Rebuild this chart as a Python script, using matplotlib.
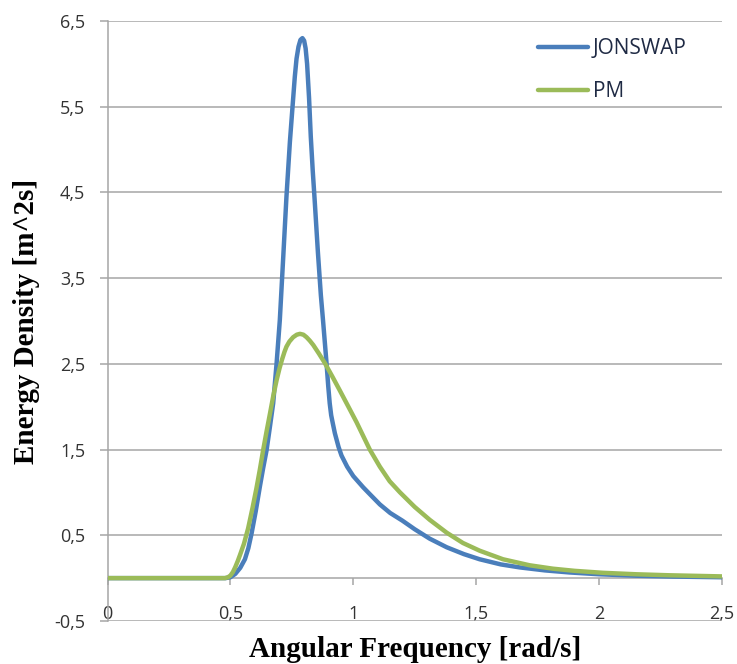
import matplotlib
matplotlib.use("Agg")
import matplotlib.pyplot as plt
from matplotlib.ticker import FuncFormatter

# Series
jonswap_x = [0.0, 0.48, 0.50, 0.52, 0.54, 0.559, 0.573, 0.586, 0.603, 0.62,
             0.633, 0.647, 0.66, 0.674, 0.688, 0.701, 0.715, 0.728, 0.742,
             0.753, 0.762, 0.769, 0.777, 0.785, 0.793, 0.80, 0.806, 0.812,
             0.82, 0.827, 0.835, 0.843, 0.856, 0.868, 0.877, 0.891, 0.898,
             0.904, 0.91, 0.917, 0.925, 0.94, 0.952, 0.975, 1.0, 1.04, 1.067,
             1.108, 1.15, 1.2, 1.25, 1.311, 1.38, 1.45, 1.514, 1.6, 1.677,
             1.78, 1.88, 2.0, 2.15, 2.3, 2.5]
jonswap_y = [0.0, 0.0, 0.01, 0.05, 0.12, 0.22, 0.35, 0.52, 0.78, 1.07,
             1.28, 1.49, 1.75, 2.04, 2.51, 3.01, 3.75, 4.45, 5.09,
             5.51, 5.85, 6.06, 6.20, 6.28, 6.30, 6.27, 6.18, 6.0,
             5.6, 5.15, 4.75, 4.4, 3.8, 3.3, 3.0, 2.51, 2.24,
             2.04, 1.90, 1.80, 1.69, 1.53, 1.43, 1.30, 1.19, 1.06, 0.98,
             0.86, 0.76, 0.67, 0.57, 0.46, 0.36, 0.28, 0.22, 0.16, 0.125,
             0.09, 0.066, 0.045, 0.028, 0.018, 0.01]

pm_x = [0.0, 0.478, 0.49, 0.50, 0.51, 0.52, 0.53, 0.539, 0.555, 0.572,
        0.59, 0.606, 0.62, 0.633, 0.647, 0.661, 0.674, 0.688, 0.70, 0.71,
        0.72, 0.728, 0.74, 0.755, 0.77, 0.783, 0.797, 0.81, 0.823, 0.837,
        0.86, 0.884, 0.915, 0.945, 0.98, 1.013, 1.04, 1.067, 1.108, 1.148,
        1.19, 1.25, 1.311, 1.38, 1.446, 1.514, 1.609, 1.717, 1.812, 1.9,
        2.015, 2.15, 2.287, 2.5]
pm_y = [0.0, 0.0, 0.01, 0.03, 0.07, 0.13, 0.20, 0.27, 0.40, 0.58,
        0.82, 1.05, 1.27, 1.49, 1.71, 1.92, 2.12, 2.31, 2.45, 2.55,
        2.64, 2.70, 2.76, 2.81, 2.84, 2.85, 2.84, 2.81, 2.77, 2.72,
        2.62, 2.51, 2.35, 2.19, 2.00, 1.82, 1.66, 1.50, 1.30, 1.13,
        1.0, 0.83, 0.68, 0.53, 0.41, 0.32, 0.22, 0.15, 0.11, 0.085,
        0.062, 0.045, 0.033, 0.02]

x_ticks = [0, 0.5, 1, 1.5, 2, 2.5]
y_ticks = [-0.5, 0.5, 1.5, 2.5, 3.5, 4.5, 5.5, 6.5]

grid_col = "#a6a6a6"
text_col = "#333333"

fig = plt.figure(figsize=(7.37, 6.64), dpi=100)
ax = fig.add_axes([0.1459, 0.0648, 0.8337, 0.9036])

ax.plot(jonswap_x, jonswap_y, color="#4a7ebb", lw=3.2, label="JONSWAP",
        solid_joinstyle="round", solid_capstyle="round", zorder=3)
ax.plot(pm_x, pm_y, color="#9bbb59", lw=3.2, label="PM",
        solid_joinstyle="round", solid_capstyle="round", zorder=3)

ax.set_xlim(0, 2.5)
ax.set_ylim(-0.5, 6.5)
ax.set_xticks(x_ticks)
ax.set_yticks(y_ticks)

fmt = FuncFormatter(lambda v, p: f"{v:g}".replace(".", ","))
ax.xaxis.set_major_formatter(fmt)
ax.yaxis.set_major_formatter(fmt)

ax.grid(axis="y", color=grid_col, lw=1.1, zorder=0)
ax.set_axisbelow(True)

for s in ["top", "right"]:
    ax.spines[s].set_visible(False)
ax.spines["left"].set_color(grid_col)
ax.spines["left"].set_linewidth(1.1)
ax.spines["bottom"].set_position(("data", 0))
ax.spines["bottom"].set_color(grid_col)
ax.spines["bottom"].set_linewidth(1.1)

ax.tick_params(axis="y", length=6, width=1.1, color=grid_col, pad=10,
               labelsize=13, labelcolor=text_col)
ax.tick_params(axis="x", length=5, width=1.1, color=grid_col, pad=14,
               labelsize=13, labelcolor=text_col)
for lbl in ax.get_xticklabels() + ax.get_yticklabels():
    lbl.set_fontfamily("Open Sans")

ax.set_xlabel("Angular Frequency [rad/s]", fontsize=21, fontweight="bold",
              family="Liberation Serif", labelpad=10)
ax.set_ylabel("Energy Density [m^2s]", fontsize=21, fontweight="bold",
              family="Liberation Serif", labelpad=10)

leg = ax.legend(loc="upper left", bbox_to_anchor=(0.683, 0.989), frameon=False,
                borderpad=0, handlelength=2.4, handletextpad=0.25,
                labelspacing=1.05, prop={"family": "Open Sans", "size": 15})
for t in leg.get_texts():
    t.set_color("#1f2a44")

fig.savefig("out.png", dpi=100)
